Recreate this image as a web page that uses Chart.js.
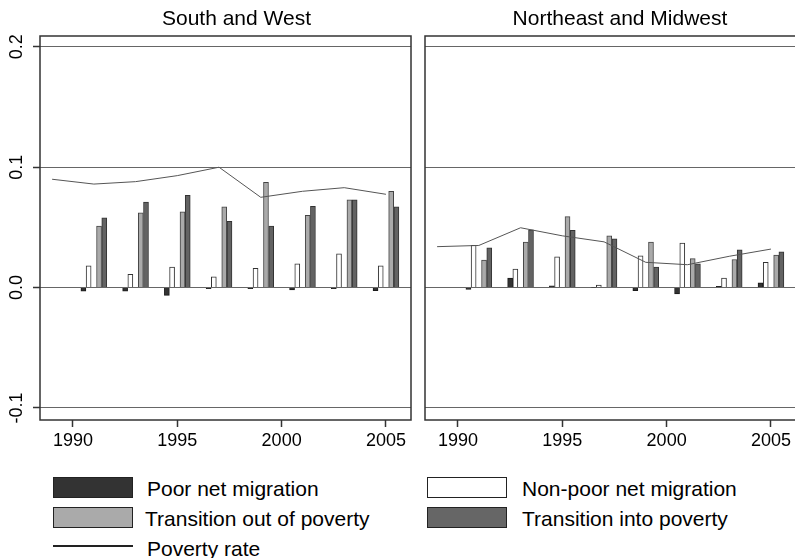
<!DOCTYPE html>
<html><head><meta charset="utf-8">
<script src="https://cdn.jsdelivr.net/npm/chart.js@4/dist/chart.umd.min.js"></script>
<style>
html,body{margin:0;padding:0;background:#fff;width:795px;height:558px;overflow:hidden;font-family:"Liberation Sans",Arial,sans-serif;position:relative;}
canvas{position:absolute;top:0;}
#cL{left:0}
#cR{left:418px}
.title{position:absolute;top:6px;font-size:21px;line-height:24px;color:#000;white-space:nowrap;transform:translateX(-50%);}
.lg{position:absolute;font-size:21px;line-height:21px;color:#000;white-space:nowrap;}
.box{position:absolute;width:80px;height:21px;box-sizing:border-box;border:1px solid #222;}
.ln{position:absolute;width:80px;height:0;border-top:2px solid #222;}
</style></head>
<body>
<canvas id="cL" width="418" height="460"></canvas>
<canvas id="cR" width="378" height="460"></canvas>
<div class="title" style="left:236.5px">South and West</div>
<div class="title" style="left:620px">Northeast and Midwest</div>

<div class="box" style="left:53px;top:477px;background:#333"></div>
<div class="lg" style="left:147px;top:478px">Poor net migration</div>
<div class="box" style="left:427px;top:477px;background:#fff"></div>
<div class="lg" style="left:522px;top:478px">Non-poor net migration</div>
<div class="box" style="left:53px;top:507px;background:#aaa"></div>
<div class="lg" style="left:145px;top:508px">Transition out of poverty</div>
<div class="box" style="left:427px;top:507px;background:#666"></div>
<div class="lg" style="left:522px;top:508px">Transition into poverty</div>
<div class="ln" style="left:53px;top:545px"></div>
<div class="lg" style="left:147px;top:538px">Poverty rate</div>

<script>
// ---- data ----
const groupYears = [1991, 1993, 1995, 1997, 1999, 2001, 2003, 2005];
const lineYears = [1989, 1991, 1993, 1995, 1997, 1999, 2001, 2003, 2005];
const xTickLabels = [1990, 1995, 2000, 2005];
const yTickValues = [-0.1, 0, 0.1, 0.2];

// South and West
const swPoor    = [-0.003, -0.003, -0.0065, -0.001, -0.001, -0.002, -0.001, -0.0025];
const swNonPoor = [0.018, 0.011, 0.017, 0.009, 0.016, 0.0197, 0.028, 0.018];
const swOut     = [0.051, 0.062, 0.063, 0.067, 0.0875, 0.060, 0.073, 0.080];
const swInto    = [0.058, 0.071, 0.0767, 0.055, 0.051, 0.0675, 0.073, 0.067];
const swPoverty = [0.090, 0.086, 0.088, 0.093, 0.100, 0.075, 0.080, 0.083, 0.0775];

// Northeast and Midwest
const nePoor    = [-0.0015, 0.0078, 0.0015, 0.0003, -0.0025, -0.0053, 0.001, 0.004];
const neNonPoor = [0.035, 0.0153, 0.0256, 0.002, 0.0264, 0.037, 0.0078, 0.021];
const neOut     = [0.0228, 0.0378, 0.059, 0.043, 0.0378, 0.024, 0.0233, 0.027];
const neInto    = [0.033, 0.048, 0.0475, 0.0406, 0.017, 0.0197, 0.0314, 0.0297];
const nePoverty = [0.034, 0.035, 0.0497, 0.043, 0.038, 0.021, 0.019, 0.026, 0.032];

// ---- drawing ----
const FONT = '"Liberation Sans", Arial, sans-serif';
const framePlugin = {
  id: 'frame',
  afterDraw(chart) {
    const {ctx, chartArea: a} = chart;
    ctx.save();
    ctx.strokeStyle = '#333';
    ctx.lineWidth = 1.5;
    ctx.strokeRect(a.left, a.top, a.right - a.left, a.bottom - a.top);
    ctx.restore();
  }
};

function makeChart(id, poor, nonPoor, out, into, poverty, showY) {
  const mk = (vals, off) => groupYears.map((yr, i) => ({x: yr + off, y: vals[i]}));
  const barDs = (label, vals, off, bg, bd) => ({
    type: 'bar', label, data: mk(vals, off),
    backgroundColor: bg, borderColor: bd, borderWidth: 1,
    barThickness: 5, grouped: false, order: 1
  });
  return new Chart(document.getElementById(id), {
    type: 'bar',
    data: {
      datasets: [
        barDs('Poor net migration', poor, -0.5, '#333', '#1a1a1a'),
        barDs('Non-poor net migration', nonPoor, -0.25, '#fff', '#333'),
        barDs('Transition out of poverty', out, 0.25, '#aaa', '#444'),
        barDs('Transition into poverty', into, 0.5, '#636363', '#333'),
        {type: 'line', label: 'Poverty rate',
         data: lineYears.map((yr, i) => ({x: yr, y: poverty[i]})),
         borderColor: '#555', borderWidth: 1, pointRadius: 0, tension: 0, fill: false, order: 0}
      ]
    },
    options: {
      responsive: false, animation: false, devicePixelRatio: 1,
      layout: {padding: {top: 36, left: 0, right: showY ? 7 : 0, bottom: 0}},
      plugins: {legend: {display: false}, tooltip: {enabled: false}, title: {display: false}},
      scales: {
        x: {
          type: 'linear', min: 1988.42, max: 2006.2, offset: false,
          afterBuildTicks: s => { s.ticks = xTickLabels.map(v => ({value: v})); },
          afterFit: s => { s.height = 40; },
          grid: {offset: false, drawOnChartArea: false, drawTicks: true, tickLength: 7, tickColor: '#333', tickWidth: 1.5},
          border: {display: false},
          ticks: {font: {family: FONT, size: 18}, color: '#000', padding: 3, maxRotation: 0, autoSkip: false,
                  callback: v => String(v)}
        },
        y: {
          type: 'linear', min: -0.11, max: 0.209,
          afterBuildTicks: s => { s.ticks = yTickValues.map(v => ({value: v})); },
          afterFit: s => { s.width = showY ? 40 : 7; },
          grid: {color: '#666', lineWidth: 1, drawTicks: showY, tickLength: 7, tickColor: '#333', tickWidth: 1.5},
          border: {display: false},
          ticks: {display: showY, font: {family: FONT, size: 18}, color: '#000', minRotation: 90, maxRotation: 90,
                  crossAlign: 'center', padding: 0, autoSkip: false, callback: v => v.toFixed(1)}
        }
      }
    },
    plugins: [framePlugin]
  });
}

makeChart('cL', swPoor, swNonPoor, swOut, swInto, swPoverty, true);
makeChart('cR', nePoor, neNonPoor, neOut, neInto, nePoverty, false);
</script>
</body></html>
